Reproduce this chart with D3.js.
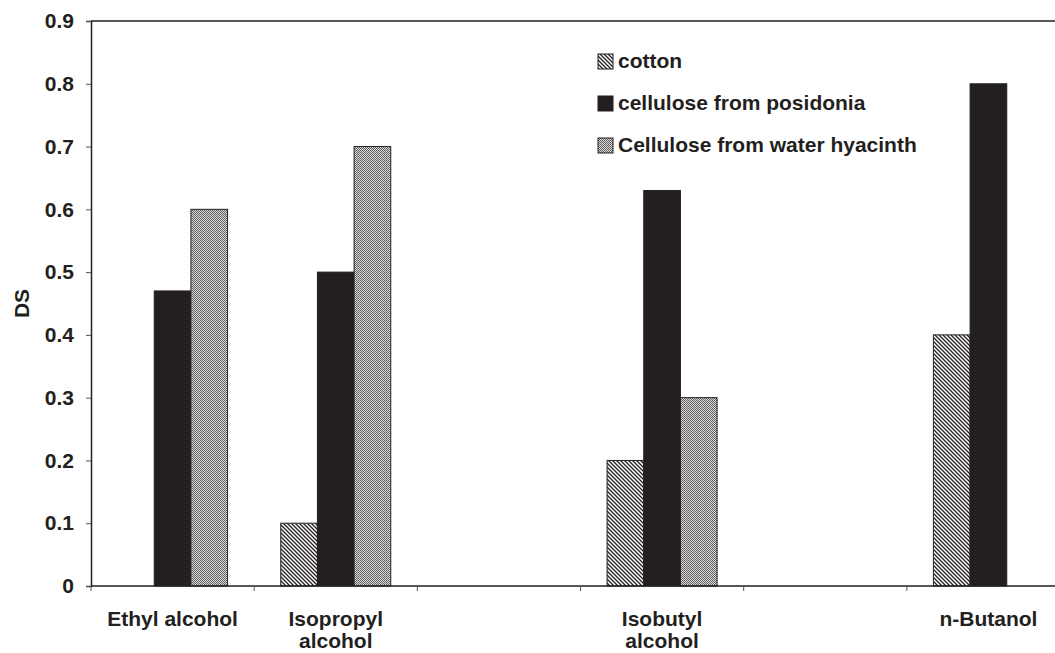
<!DOCTYPE html>
<html>
<head>
    <title>DS by alcohol</title>
    <script src="https://cdnjs.cloudflare.com/ajax/libs/d3/7.8.5/d3.min.js"></script>
    <style>
    body { margin:0; background:#fff; }
    svg text {
        font-family:"Liberation Sans", Arial, sans-serif;
        font-weight:bold;
        font-size:21px;
        fill:#231f20;
    }
    </style>
</head>
<body>
<div class='chart'></div>
<script>
// six slots on the axis, two of them are empty in the original
var categories = ['Ethyl alcohol', 'Isopropyl\nalcohol', '', 'Isobutyl\nalcohol', '', 'n-Butanol'];
var seriesNames = ['cotton', 'cellulose from posidonia', 'Cellulose from water hyacinth'];
var cotton    = [0,    0.1, null, 0.2,  null, 0.4];
var posidonia = [0.47, 0.5, null, 0.63, null, 0.8];
var hyacinth  = [0.6,  0.7, null, 0.3,  null, 0];
var yTicks = [0, 0.1, 0.2, 0.3, 0.4, 0.5, 0.6, 0.7, 0.8, 0.9];

var width = 1055, height = 653;
var left = 91, top_ = 21, plotRight = 1070, bottom = 586;

var svg = d3.select('.chart').append('svg')
    .attr('width', width)
    .attr('height', height);

// fill patterns
var defs = svg.append('defs');
var hatch = defs.append('pattern')
    .attr('id', 'hatch')
    .attr('patternUnits', 'userSpaceOnUse')
    .attr('width', 4).attr('height', 4);
hatch.append('rect').attr('width', 4).attr('height', 4).attr('fill', '#fff');
hatch.append('path')
    .attr('d', 'M-1,-1 L5,5 M-1,3 L1,5 M3,-1 L5,1')
    .attr('stroke', '#231f20').attr('stroke-width', 1.3);

var dots = defs.append('pattern')
    .attr('id', 'dots')
    .attr('patternUnits', 'userSpaceOnUse')
    .attr('width', 2).attr('height', 2);
dots.append('rect').attr('width', 2).attr('height', 2).attr('fill', '#dcdcdc');
dots.append('rect').attr('width', 1).attr('height', 1).attr('fill', '#555');
dots.append('rect').attr('x', 1).attr('y', 1).attr('width', 1).attr('height', 1).attr('fill', '#666');

var fills = ['url(#hatch)', '#231f20', 'url(#dots)'];
var series = [cotton, posidonia, hyacinth];

var x = d3.scaleBand()
    .domain(d3.range(categories.length))
    .range([left, plotRight]);

var x1 = d3.scaleBand()
    .domain(d3.range(series.length))
    .range([0, x.bandwidth()])
    .paddingOuter(0.725);

var y = d3.scaleLinear()
    .domain([0, 0.9])
    .range([bottom, top_]);

// frame on top
svg.append('line')
    .attr('x1', left).attr('x2', plotRight)
    .attr('y1', y(0.9)).attr('y2', y(0.9))
    .attr('stroke', '#231f20').attr('stroke-width', 1.5);
svg.append('line')
    .attr('x1', plotRight).attr('x2', plotRight)
    .attr('y1', y(0.9)).attr('y2', y(0))
    .attr('stroke', '#231f20').attr('stroke-width', 1.5);

// bars
series.forEach(function(vals, s) {
    svg.append('g').selectAll('rect')
        .data(vals.map(function(v, i) { return {i:i, v:v}; })
                  .filter(function(d) { return d.v; }))
        .enter().append('rect')
        .attr('x', function(d) { return x(d.i) + x1(s); })
        .attr('y', function(d) { return y(d.v); })
        .attr('width', x1.bandwidth())
        .attr('height', function(d) { return y(0) - y(d.v); })
        .attr('fill', fills[s])
        .attr('stroke', '#231f20')
        .attr('stroke-width', 1);
});

// y axis
var yAxis = svg.append('g')
    .attr('transform', 'translate(' + left + ',0)')
    .call(d3.axisLeft(y)
        .tickValues(yTicks)
        .tickSize(5)
        .tickPadding(12)
        .tickFormat(function(d) { return d === 0 ? '0' : d.toFixed(1); }));
yAxis.select('.domain').attr('stroke', '#231f20').attr('stroke-width', 1.5);
yAxis.selectAll('.tick line').attr('stroke', '#555');
yAxis.selectAll('text').attr('font-size', null).attr('font-family', null);

// x axis line and the slot ticks
svg.append('line')
    .attr('x1', left).attr('x2', plotRight)
    .attr('y1', y(0)).attr('y2', y(0))
    .attr('stroke', '#231f20').attr('stroke-width', 1.5);
svg.append('g').selectAll('line')
    .data(d3.range(categories.length + 1))
    .enter().append('line')
    .attr('x1', function(i) { return left + i * x.step(); })
    .attr('x2', function(i) { return left + i * x.step(); })
    .attr('y1', y(0)).attr('y2', y(0) + 5)
    .attr('stroke', '#555');

// category labels
var labels = svg.append('g').selectAll('text')
    .data(categories)
    .enter().append('text')
    .attr('text-anchor', 'middle')
    .attr('y', 626);
labels.each(function(c, i) {
    var t = d3.select(this);
    c.split('\n').forEach(function(line, k) {
        t.append('tspan')
            .attr('x', x(i) + x.bandwidth() / 2)
            .attr('dy', k === 0 ? 0 : 22)
            .text(line);
    });
});

// y title
svg.append('text')
    .attr('transform', 'translate(29,' + ((top_ + bottom) / 2) + ') rotate(-90)')
    .attr('text-anchor', 'middle')
    .text('DS');

// legend
var legend = svg.append('g').selectAll('g')
    .data(seriesNames)
    .enter().append('g')
    .attr('transform', function(d, i) { return 'translate(598,' + (68 + i * 42) + ')'; });
legend.append('rect')
    .attr('y', -14)
    .attr('width', 15).attr('height', 15)
    .attr('fill', function(d, i) { return fills[i]; })
    .attr('stroke', '#231f20');
legend.append('text')
    .attr('x', 20)
    .text(function(d) { return d; });
</script>
</body>
</html>
